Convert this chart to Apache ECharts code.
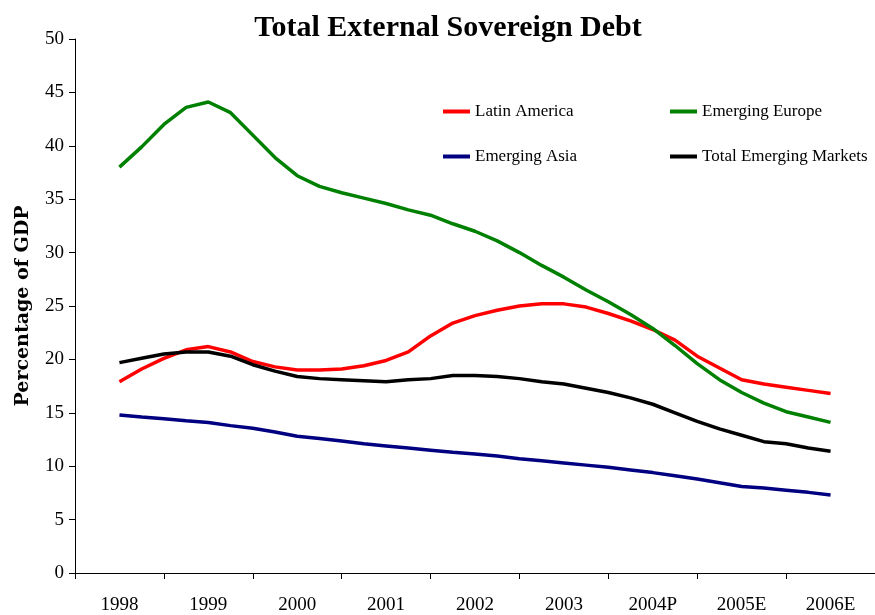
<!DOCTYPE html>
<html>
<head>
<meta charset="utf-8">
<script src="https://cdn.jsdelivr.net/npm/echarts@6/dist/echarts.min.js"></script>
<style>
  html, body { margin: 0; padding: 0; background: #fff; }
  #chart { width: 875px; height: 615px; }
</style>
</head>
<body>
<div id="chart"></div>
<script>
// Year categories shown on the horizontal axis
const yearLabels = ['1998', '1999', '2000', '2001', '2002', '2003', '2004P', '2005E', '2006E'];

// Quarterly observation times (in years)
const periods = [
  1998.00, 1998.25, 1998.50, 1998.75,
  1999.00, 1999.25, 1999.50, 1999.75,
  2000.00, 2000.25, 2000.50, 2000.75,
  2001.00, 2001.25, 2001.50, 2001.75,
  2002.00, 2002.25, 2002.50, 2002.75,
  2003.00, 2003.25, 2003.50, 2003.75,
  2004.00, 2004.25, 2004.50, 2004.75,
  2005.00, 2005.25, 2005.50, 2005.75,
  2006.00
];

// Debt as percentage of GDP
const latinAmerica = [
  17.9, 19.1, 20.1, 20.9, 21.2, 20.7, 19.8, 19.3,
  19.0, 19.0, 19.1, 19.4, 19.9, 20.7, 22.2, 23.4,
  24.1, 24.6, 25.0, 25.2, 25.2, 24.9, 24.3, 23.6,
  22.8, 21.8, 20.3, 19.2, 18.1, 17.7, 17.4, 17.1,
  16.8
];
const emergingEurope = [
  38.0, 39.9, 42.0, 43.6, 44.1, 43.1, 41.0, 38.9,
  37.2, 36.2, 35.6, 35.1, 34.6, 34.0, 33.5, 32.7,
  32.0, 31.1, 30.0, 28.8, 27.7, 26.5, 25.4, 24.2,
  22.9, 21.3, 19.6, 18.1, 16.9, 15.9, 15.1, 14.6,
  14.1
];
const emergingAsia = [
  14.8, 14.6, 14.45, 14.25, 14.1, 13.8, 13.55, 13.2,
  12.8, 12.6, 12.35, 12.1, 11.9, 11.7, 11.5, 11.3,
  11.15, 10.95, 10.7, 10.5, 10.3, 10.1, 9.9, 9.65,
  9.4, 9.1, 8.8, 8.45, 8.1, 7.95, 7.75, 7.55,
  7.3
];
const totalEmerging = [
  19.7, 20.1, 20.5, 20.7, 20.7, 20.3, 19.5, 18.9,
  18.4, 18.2, 18.1, 18.0, 17.9, 18.1, 18.2, 18.5,
  18.5, 18.4, 18.2, 17.9, 17.7, 17.3, 16.9, 16.4,
  15.8, 15.0, 14.2, 13.5, 12.9, 12.3, 12.1, 11.7,
  11.4
];

const FONT = '"Liberation Serif", "Times New Roman", serif';

function pairs(values) {
  return periods.map((t, i) => [t, values[i]]);
}

function lineSeries(name, color, values) {
  return {
    name: name,
    type: 'line',
    xAxisIndex: 1,
    yAxisIndex: 0,
    data: pairs(values),
    showSymbol: false,
    symbol: 'none',
    lineStyle: { color: color, width: 3.5 },
    itemStyle: { color: color },
    z: 3
  };
}

const legendText = { color: '#000', fontSize: 17, fontFamily: FONT };

const chart = echarts.init(document.getElementById('chart'), null, { renderer: 'canvas' });
chart.setOption({
  animation: false,
  backgroundColor: '#fff',
  title: {
    text: 'Total External Sovereign Debt',
    left: 443,
    textAlign: 'center',
    top: 8,
    textStyle: { fontFamily: FONT, fontSize: 30, fontWeight: 'bold', color: '#000' }
  },
  legend: [
    {
      data: ['Latin America', 'Emerging Asia'],
      orient: 'vertical',
      left: 438,
      top: 98,
      itemGap: 28,
      itemWidth: 27,
      itemHeight: 4,
      icon: 'rect',
      textStyle: legendText
    },
    {
      data: ['Emerging Europe', 'Total Emerging Markets'],
      orient: 'vertical',
      left: 665,
      top: 98,
      itemGap: 28,
      itemWidth: 27,
      itemHeight: 4,
      icon: 'rect',
      textStyle: legendText
    }
  ],
  grid: { left: 75, width: 806, top: 39, height: 535, containLabel: false },
  xAxis: [
    {
      type: 'category',
      data: yearLabels,
      boundaryGap: true,
      axisLine: { lineStyle: { color: '#000', width: 1 } },
      axisTick: { show: true, length: 6, lineStyle: { color: '#000' } },
      axisLabel: { color: '#000', fontSize: 19, fontFamily: FONT, margin: 23 }
    },
    {
      type: 'value',
      min: 1997.5,
      max: 2006.5,
      show: false
    }
  ],
  yAxis: {
    type: 'value',
    min: 0,
    max: 50,
    interval: 5,
    name: 'Percentage of GDP',
    nameLocation: 'middle',
    nameGap: 42,
    nameTextStyle: { fontFamily: '"DejaVu Serif", serif', fontSize: 19, fontWeight: 'bold', color: '#000' },
    axisLine: { show: true, lineStyle: { color: '#000', width: 1 } },
    axisTick: { show: true, length: 6, lineStyle: { color: '#000' } },
    axisLabel: { color: '#000', fontSize: 19, fontFamily: FONT, margin: 11 },
    splitLine: { show: false }
  },
  series: [
    lineSeries('Latin America', '#FF0000', latinAmerica),
    lineSeries('Emerging Europe', '#008000', emergingEurope),
    lineSeries('Emerging Asia', '#000080', emergingAsia),
    lineSeries('Total Emerging Markets', '#000000', totalEmerging)
  ]
});
</script>
</body>
</html>
